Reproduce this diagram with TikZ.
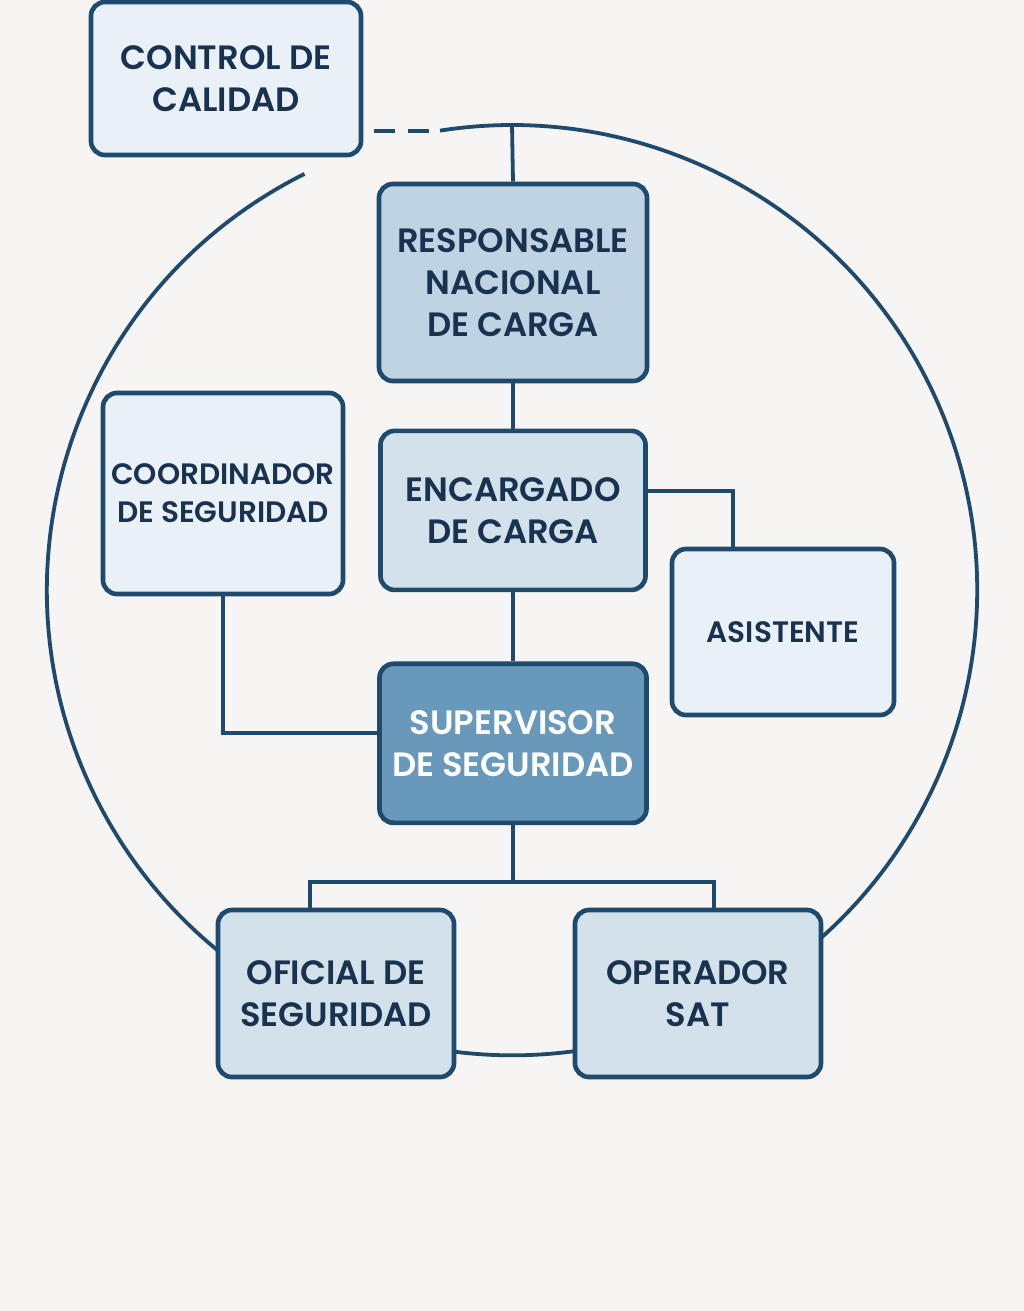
\documentclass[tikz,border=0pt]{standalone}
\usepackage{fontspec}
\setmainfont{Poppins}[BoldFont={Poppins SemiBold}]
\usetikzlibrary{positioning,calc}
\definecolor{linenavy} {RGB}{30,74,110}
\definecolor{textnavy} {RGB}{24,50,80}
\definecolor{paper}    {RGB}{246,245,243}
\definecolor{palefill} {RGB}{234,241,246}
\definecolor{lightfill}{RGB}{211,225,235}
\definecolor{midfill}  {RGB}{192,211,226}
\definecolor{deepfill} {RGB}{104,153,187}

\begin{document}
\begin{tikzpicture}[
  x=0.025cm, y=0.025cm,
  font=\fontsize{24}{30}\selectfont\bfseries,
  unit/.style={rectangle, rounded corners=10pt, draw=linenavy,
    line width=3.3pt, text=textnavy, align=center, inner sep=0pt},
  paleunit/.style={unit, fill=palefill},
  lightunit/.style={unit, fill=lightfill},
  midunit/.style={unit, fill=midfill},
  deepunit/.style={unit, fill=deepfill, text=white},
  smalltext/.style={font=\fontsize{21}{27}\selectfont\bfseries},
  link/.style={draw=linenavy, line width=2.7pt},
  dashlink/.style={link, dash pattern=on 0.525cm off 0.325cm},
]
\useasboundingbox[fill=paper] (0,0) rectangle (1024,-1311);

% outer ring, open near the top left
\draw[link] (304.5,-173.9) arc[start angle=116.5, end angle=458.9, radius=11.625cm]
  coordinate (ringend);
\coordinate (ringtop) at (512,-125);

% units
\node[paleunit, minimum width=6.75cm, minimum height=3.825cm] (ctrl) at (226,-78.5)
  {CONTROL DE\\CALIDAD};
\node[midunit, minimum width=6.7cm, minimum height=4.925cm] (resp) at (513,-282.5)
  {RESPONSABLE\\NACIONAL\\DE CARGA};
\node[lightunit, below=1.13cm of resp, minimum width=6.625cm, minimum height=3.975cm] (enc)
  {ENCARGADO\\DE CARGA};
\node[deepunit, below=1.73cm of enc, minimum width=6.675cm, minimum height=3.975cm] (sup)
  {SUPERVISOR\\DE SEGURIDAD};
\node[paleunit, smalltext, minimum width=6.0cm, minimum height=5.025cm] (coord) at (223,-493.5)
  {COORDINADOR\\DE SEGURIDAD};
\node[paleunit, smalltext, minimum width=5.55cm, minimum height=4.15cm] (asis) at (783,-632)
  {ASISTENTE};
\node[lightunit, minimum width=5.9cm, minimum height=4.175cm] (ofi) at (336,-993.5)
  {OFICIAL DE\\SEGURIDAD};
\node[lightunit, minimum width=6.15cm, minimum height=4.175cm] (opr) at (698,-993.5)
  {OPERADOR\\SAT};

% connectors
\draw[dashlink, shorten <=0.27cm, shorten >=0.25cm] (ctrl.east |- ringend) -- (ringend);
\draw[link] (ringtop) -- (resp.north);
\draw[link] (resp) -- (enc);
\draw[link] (enc) -- (sup);
\draw[link] ($(enc.east)+(0,19.5)$) -| ($(asis.north)+(-50,0)$);
\draw[link] (coord.south) |- ($(sup.west)+(0,10)$);
\coordinate (fork) at ($(sup.south)+(0,-57)$);
\draw[link] (sup.south) -- (fork);
\draw[link] ($(ofi.north)+(-26,0)$) |- (fork) -| ($(opr.north)+(16,0)$);

\end{tikzpicture}
\end{document}
